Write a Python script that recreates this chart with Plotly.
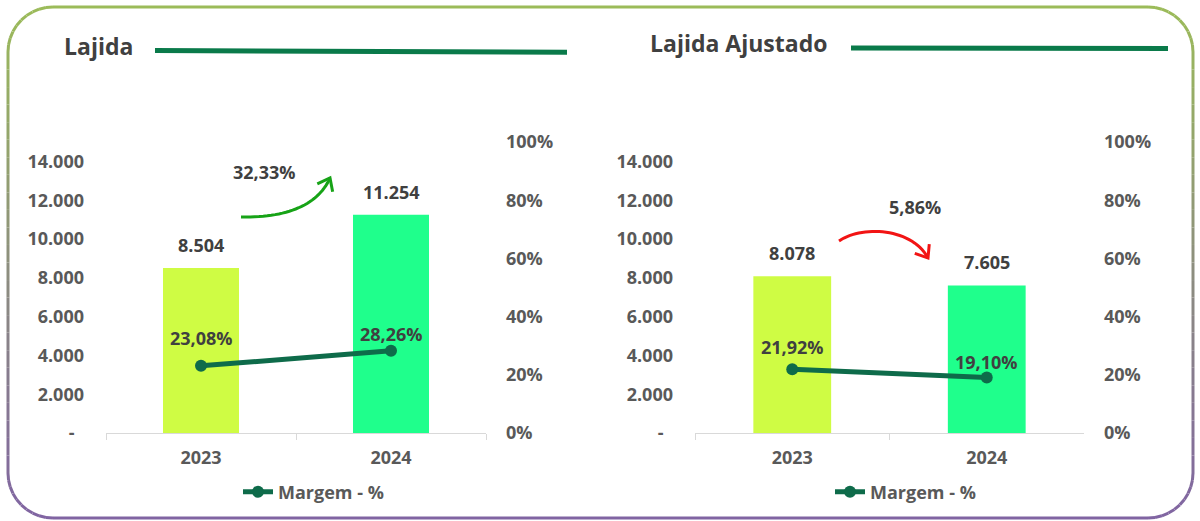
import math
import plotly.graph_objects as go

W, H = 1200, 521

# ---------------- data ----------------
anos = ["2023", "2024"]
lajida = [8504, 11254]
lajida_ajustado = [8078, 7605]
margem_lajida = [0.2308, 0.2826]
margem_ajustado = [0.2192, 0.1910]
variacao = [0.3233, -0.0586]
titulos = ["Lajida", "Lajida Ajustado"]
legenda = "Margem - %"
eixo_valores = [0, 2000, 4000, 6000, 8000, 10000, 12000, 14000]
eixo_pct = [0, 0.2, 0.4, 0.6, 0.8, 1.0]

# ---------------- style ----------------
FONT = "Open Sans"
TICK_COLOR = "#595959"
LABEL_COLOR = "#404040"
BAR_COLORS = ["#CFFC44", "#1FFF8C"]
LINE_COLOR = "#0E6B4A"
TITLE_LINE = "#0A7A4A"
GREEN_ARROW = "#17A317"
RED_ARROW = "#F21414"
FS = 18


def fx(x):
    return x / W


def fy(y):
    return 1 - y / H


def fmt_num(v):
    if v == 0:
        return "-\u00a0\u00a0"
    return f"{v:,.0f}".replace(",", ".")


def fmt_pct(v, dec=2):
    return f"{v * 100:.{dec}f}%".replace(".", ",")


tick_font = dict(family=FONT, size=FS, color=TICK_COLOR, weight="bold")
label_font = dict(family=FONT, size=FS, color=LABEL_COLOR, weight="bold")

fig = go.Figure()

panels = [
    dict(vals=lajida, marg=margem_lajida, x="x", y="y", y2="y2", legend="legend",
         xdom=[106, 486], marg_shift=[28, 17]),
    dict(vals=lajida_ajustado, marg=margem_ajustado, x="x2", y="y3", y2="y4", legend="legend2",
         xdom=[695, 1084], marg_shift=[22, 15]),
]

annotations = []
shapes = []

for p in panels:
    fig.add_trace(go.Bar(x=anos, y=p["vals"], marker=dict(color=BAR_COLORS, line=dict(width=0)),
                         width=0.4, xaxis=p["x"], yaxis=p["y"], showlegend=False, hoverinfo="skip"))
    fig.add_trace(go.Scatter(x=anos, y=p["marg"], mode="lines+markers", name=legenda,
                             line=dict(color=LINE_COLOR, width=5),
                             marker=dict(color=LINE_COLOR, size=12),
                             xaxis=p["x"], yaxis=p["y2"], legend=p["legend"], hoverinfo="skip"))
    for i, a in enumerate(anos):
        # category axes: annotation x given as category index
        annotations.append(dict(x=i, y=p["vals"][i], xref=p["x"], yref=p["y"], text=fmt_num(p["vals"][i]),
                                showarrow=False, yanchor="middle", yshift=23, font=label_font))
        annotations.append(dict(x=i, y=p["marg"][i], xref=p["x"], yref=p["y2"], text=fmt_pct(p["marg"][i]),
                                showarrow=False, yanchor="middle", yshift=p["marg_shift"][i], font=label_font))

ydom = [fy(433), fy(142)]


def xaxis(dom, anchor):
    return dict(domain=[fx(dom[0]), fx(dom[1])], anchor=anchor, type="category", range=[-0.5, 1.5],
                showline=True, linecolor="#D9D9D9", linewidth=1, ticks="outside", tickson="boundaries",
                ticklen=6, tickcolor="#D9D9D9", showgrid=False, zeroline=False, tickfont=tick_font,
                ticklabelstandoff=8, fixedrange=True, automargin=False)


def yaxis_left(anchor):
    return dict(domain=ydom, anchor=anchor, range=[0, 15000], tickvals=eixo_valores,
                ticktext=[fmt_num(v) for v in eixo_valores], showgrid=False, zeroline=False,
                showline=False, ticks="", tickfont=tick_font, ticklabelstandoff=21, fixedrange=True,
                automargin=False)


def yaxis_right(anchor, over):
    return dict(domain=ydom, anchor=anchor, overlaying=over, side="right", range=[0, 1],
                tickvals=eixo_pct, ticktext=[fmt_pct(v, 0) for v in eixo_pct], showgrid=False,
                zeroline=False, showline=False, ticks="", tickfont=tick_font, ticklabelstandoff=19,
                fixedrange=True, automargin=False)


# titles
title_pos = [(62, 46), (648, 43)]
for t, (px, py) in zip(titulos, title_pos):
    annotations.append(dict(x=fx(px), y=fy(py), xref="paper", yref="paper", text=t, showarrow=False,
                            xanchor="left", yanchor="middle",
                            font=dict(family=FONT, size=23, color=LABEL_COLOR, weight="bold")))
for (x0, y0, x1, y1) in [(155, 50.5, 567, 52.3), (851, 48, 1168, 48.5)]:
    shapes.append(dict(type="line", xref="paper", yref="paper", x0=fx(x0), y0=fy(y0), x1=fx(x1), y1=fy(y1),
                       line=dict(color=TITLE_LINE, width=5)))

# variation labels
var_pos = [(264, 172), (915, 207)]
for v, (px, py) in zip(variacao, var_pos):
    annotations.append(dict(x=fx(px), y=fy(py), xref="paper", yref="paper", text=fmt_pct(abs(v)),
                            showarrow=False, xanchor="center", yanchor="middle", font=label_font))


# curved arrows
def bezier(pts, n=30):
    out = []
    for k in range(n + 1):
        t = k / n
        if len(pts) == 3:
            (x0, y0), (x1, y1), (x2, y2) = pts
            x = (1 - t) ** 2 * x0 + 2 * (1 - t) * t * x1 + t ** 2 * x2
            y = (1 - t) ** 2 * y0 + 2 * (1 - t) * t * y1 + t ** 2 * y2
        else:
            (x0, y0), (x1, y1), (x2, y2), (x3, y3) = pts
            x = (1 - t) ** 3 * x0 + 3 * (1 - t) ** 2 * t * x1 + 3 * (1 - t) * t ** 2 * x2 + t ** 3 * x3
            y = (1 - t) ** 3 * y0 + 3 * (1 - t) ** 2 * t * y1 + 3 * (1 - t) * t ** 2 * y2 + t ** 3 * y3
        out.append((x, y))
    return out


def arrow_shapes(ctrl, color, head=14, ang=38):
    pts = bezier(ctrl)
    path = "M " + " L ".join(f"{fx(x):.5f},{fy(y):.5f}" for x, y in pts)
    res = [dict(type="path", xref="paper", yref="paper", path=path, line=dict(color=color, width=3))]
    (xa, ya), (xb, yb) = pts[-3], pts[-1]
    th = math.atan2(ya - yb, xa - xb)
    arms = []
    for s in (-1, 1):
        a = th + s * math.radians(ang)
        arms.append((xb + head * math.cos(a), yb + head * math.sin(a)))
    hp = (f"M {fx(arms[0][0]):.5f},{fy(arms[0][1]):.5f} L {fx(xb):.5f},{fy(yb):.5f} "
          f"L {fx(arms[1][0]):.5f},{fy(arms[1][1]):.5f}")
    res.append(dict(type="path", xref="paper", yref="paper", path=hp, line=dict(color=color, width=3)))
    return res


shapes += arrow_shapes([(241, 217), (312, 218), (330, 178)], GREEN_ARROW)
shapes += arrow_shapes([(839, 241), (862, 225), (912, 228), (928, 258)], RED_ARROW)

# rounded border with vertical gradient
bx0, by0, bx1, by1, r = 8, 7, 1193, 518, 45
c_top = (155, 187, 89)
c_bot = (128, 100, 162)


def col(y):
    t = min(max((y - by0) / (by1 - by0), 0), 1)
    return "rgb(%d,%d,%d)" % tuple(round(c_top[i] + (c_bot[i] - c_top[i]) * t) for i in range(3))


def arc(cx, cy, a0, a1, n=10):
    return [(cx + r * math.cos(math.radians(a0 + (a1 - a0) * k / n)),
             cy + r * math.sin(math.radians(a0 + (a1 - a0) * k / n))) for k in range(n + 1)]


def vline(x, ya, yb, n=24):
    return [(x, ya + (yb - ya) * k / n) for k in range(n + 1)]


border = []
border += arc(bx0 + r, by0 + r, 180, 270)
border += [(bx1 - r, by0)]
border += arc(bx1 - r, by0 + r, 270, 360)
border += vline(bx1, by0 + r, by1 - r)[1:]
border += arc(bx1 - r, by1 - r, 0, 90)[1:]
border += [(bx0 + r, by1)]
border += arc(bx0 + r, by1 - r, 90, 180)[1:]
border += vline(bx0, by1 - r, by0 + r)[1:]
for (xa, ya), (xb, yb) in zip(border[:-1], border[1:]):
    shapes.append(dict(type="line", xref="paper", yref="paper", x0=fx(xa), y0=fy(ya), x1=fx(xb), y1=fy(yb),
                       line=dict(color=col((ya + yb) / 2), width=3)))

legend_font = dict(family=FONT, size=FS, color=TICK_COLOR, weight="bold")
fig.update_layout(
    width=W, height=H, margin=dict(l=0, r=0, t=0, b=0, pad=0, autoexpand=False),
    paper_bgcolor="white", plot_bgcolor="rgba(0,0,0,0)",
    xaxis=xaxis(panels[0]["xdom"], "y"),
    yaxis=yaxis_left("x"),
    yaxis2=yaxis_right("x", "y"),
    xaxis2=xaxis(panels[1]["xdom"], "y3"),
    yaxis3=yaxis_left("x2"),
    yaxis4=yaxis_right("x2", "y3"),
    legend=dict(x=fx(238), y=fy(492), xanchor="left", yanchor="middle", orientation="h",
                font=legend_font, bgcolor="rgba(0,0,0,0)"),
    legend2=dict(x=fx(830), y=fy(492), xanchor="left", yanchor="middle", orientation="h",
                 font=legend_font, bgcolor="rgba(0,0,0,0)"),
    annotations=annotations, shapes=shapes, bargap=0.6, showlegend=True,
)

fig.write_html("out.html", config={"displayModeBar": False},
               post_script="document.body.style.margin='0';document.body.style.overflow='hidden';")
